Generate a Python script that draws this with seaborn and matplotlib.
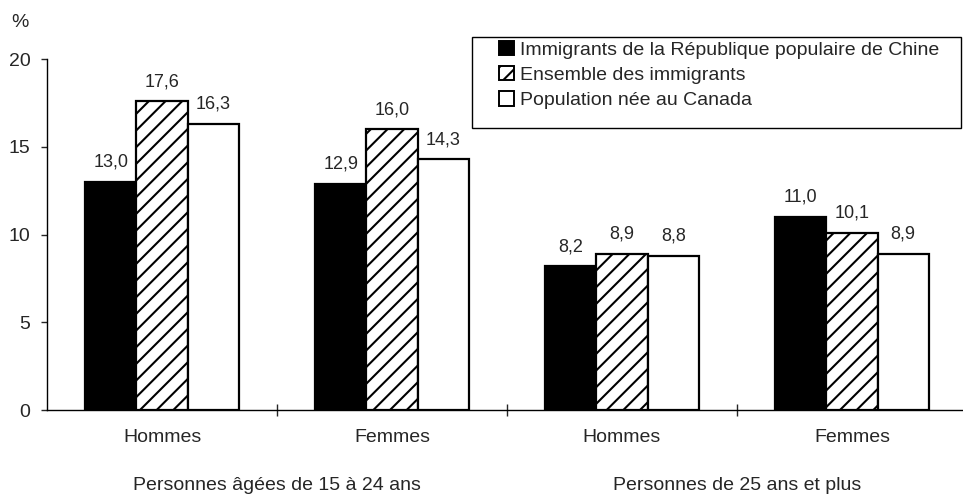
import numpy as np
import pandas as pd
import matplotlib
matplotlib.use("Agg")
import matplotlib.pyplot as plt
from matplotlib.patches import Rectangle
import seaborn as sns

#%% data
groupes = ["H1", "F1", "H2", "F2"]
sexe = ["Hommes", "Femmes", "Hommes", "Femmes"]
ages = ["Personnes âgées de 15 à 24 ans", "Personnes de 25 ans et plus"]
series = ["Immigrants de la République populaire de Chine",
          "Ensemble des immigrants",
          "Population née au Canada"]
chine = [13.0, 12.9, 8.2, 11.0]
immigrants = [17.6, 16.0, 8.9, 10.1]
canada = [16.3, 14.3, 8.8, 8.9]

df = pd.DataFrame({"groupe": groupes * 3,
                   "serie": np.repeat(series, 4),
                   "valeur": chine + immigrants + canada})

#%% style
sns.set_style("ticks")
plt.rcParams["font.family"] = ["Liberation Sans", "DejaVu Sans"]
plt.rcParams["hatch.linewidth"] = 1.5

fig = plt.figure(figsize=(9.63, 4.97), dpi=100)
ax = fig.add_axes([0.049, 0.175, 0.955, 0.706])

couleurs = ["black", "white", "white"]
sns.barplot(data=df, x="groupe", y="valeur", hue="serie", order=groupes,
            hue_order=series, palette=couleurs, width=0.67, gap=0,
            edgecolor="black", linewidth=1.6, ax=ax, saturation=1)

hatches = ["", "//", ""]
for cont, h in zip(ax.containers, hatches):
    for b in cont:
        b.set_hatch(h)
    ax.bar_label(cont, labels=[f"{v:.1f}".replace(".", ",") for v in cont.datavalues],
                 padding=8, fontsize=13)

#%% axes
ax.set_ylim(0, 20)
ax.set_xlim(-0.5, 3.5)
ax.set_yticks([0, 5, 10, 15, 20])
ax.tick_params(axis="y", labelsize=14, length=4, width=1, direction="out", pad=8)
ax.set_xticks(range(4))
ax.set_xticklabels(sexe, fontsize=14)
ax.tick_params(axis="x", which="major", length=0, pad=14)
ax.set_xticks([0.5, 1.5, 2.5], minor=True)
ax.tick_params(axis="x", which="minor", length=9, width=1, direction="inout")
ax.set_xlabel("")
ax.set_ylabel("")
sns.despine(ax=ax, top=True, right=True)
for s in ["left", "bottom"]:
    ax.spines[s].set_linewidth(1)
    ax.spines[s].set_color("black")

for i, a in enumerate(ages):
    ax.text(0.5 + 2 * i, -0.214, a, transform=ax.get_xaxis_transform(),
            ha="center", va="center", fontsize=14)

fig.text(0.012, 0.954, "%", fontsize=14, ha="left", va="center")

#%% legend (cadre dessiné à part)
leg = ax.legend(loc="upper left", bbox_to_anchor=(0.518, 0.918),
                bbox_transform=fig.transFigure, frameon=False,
                handlelength=0.78, handleheight=0.78, handletextpad=0.3,
                borderpad=0, labelspacing=0.36, fontsize=14, borderaxespad=0)
for h, ht in zip(leg.legend_handles, hatches):
    h.set_hatch(ht)
    h.set_edgecolor("black")
    h.set_linewidth(1.4)

fig.patches.append(Rectangle((0.490, 0.742), 0.508, 0.184, transform=fig.transFigure,
                             fill=False, edgecolor="black", linewidth=1))

fig.savefig("out.png", dpi=100)
